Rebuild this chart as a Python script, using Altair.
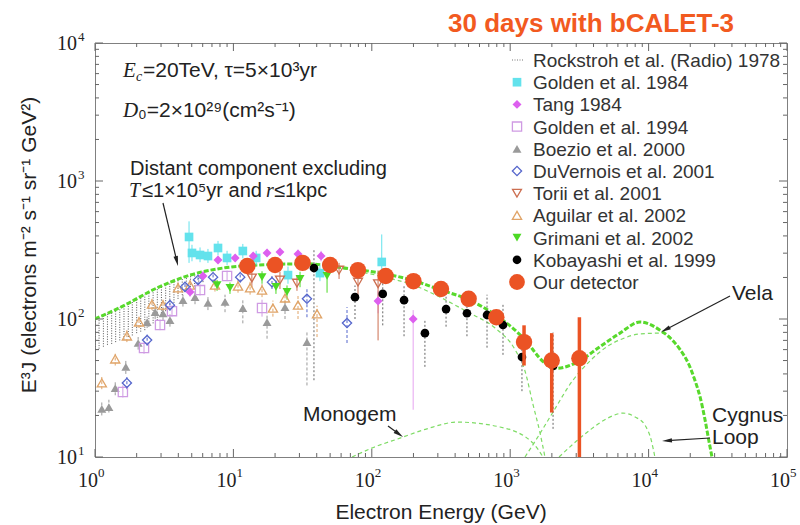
import math
import altair as alt
import pandas as pd

SANS = "Liberation Sans"
SERIF = "Liberation Serif"
INK = "#222222"
# plot box in page pixels
LEFT, TOP, W, H = 95, 43, 692, 414

# ---------------- model spectra: energy (GeV) vs E^3 J ----------------
total_E = [1, 1.59, 2.81, 4.86, 8.4, 14.8, 34, 64, 126, 200, 316, 500, 794, 1259, 1780, 2180,
           3090, 4450, 6210, 8670, 12100, 14500, 16900, 19500, 21600, 23600, 25600, 27300, 28700]
total_F = [100, 124, 168, 208, 234, 246, 251, 234, 212, 190, 162, 138, 106, 72, 48, 44,
           49, 63, 79, 95, 83, 72, 60, 47, 36, 27, 18.5, 13, 10]

distant_E = [1, 1.59, 2.81, 4.86, 8.4, 14.8, 34, 64, 126, 200, 311, 495, 777, 1084, 1279, 1462, 1641, 1783]
distant_F = [100, 124, 168, 208, 234, 246, 250, 230, 200, 176, 144, 112, 86, 60, 42, 24, 15, 10]

monogem_E = [72, 100, 160, 250, 413, 843, 1462, 1725]
monogem_F = [10, 11.6, 13.7, 16, 17.9, 16.5, 12.6, 10]

vela_E = [1279, 1600, 2000, 2840, 3800, 5000, 6500, 8670, 12700, 16900, 21600, 25600, 28700]
vela_F = [10, 14.2, 20.5, 36, 50, 63, 72, 78, 79, 60, 36, 18.5, 10]

cyg_E = [2254, 3000, 3773, 5000, 6530, 8000, 9420, 10500, 11100]
cyg_F = [10, 13, 15.7, 19, 20.8, 19.5, 17, 13, 10]

# ---------------- measurements ----------------
rock_E = [1.00, 1.07, 1.15, 1.23, 1.32, 1.41, 1.51, 1.62, 1.74, 1.86, 2.00, 2.14, 2.29, 2.45,
          2.63, 2.82, 3.02, 3.24, 3.47, 3.72, 3.98, 4.27, 4.57, 4.90, 5.25, 5.62, 6.03]
rock_lo = [60, 61, 63, 65, 66, 68, 70, 71, 74, 76, 79, 81, 83, 88, 93, 98, 106, 114, 122, 131,
           140, 149, 158, 163, 172, 179, 185]
rock_hi = [100, 103, 107, 110, 114, 118, 121, 125, 130, 135, 140, 145, 150, 156, 162, 168, 173,
           179, 185, 190, 195, 199, 203, 208, 211, 214, 217]

g84_E = [4.78, 5.02, 5.74, 6.55, 7.74, 9.0, 11.7, 14.6, 24.8, 42.2, 118]
g84_F = [393, 301, 291, 286, 327, 277, 311, 277, 208, 215, 259]
g84_lo = [255, 262, 258, 255, 290, 245, 275, 245, 180, 188, 215]
g84_hi = [510, 345, 330, 322, 368, 312, 350, 312, 240, 245, 410]

tang_E = [4.86, 6.03, 7.74, 10.3, 13.9, 17.5, 21.7, 29.3, 43.0, 111, 199]
tang_F = [157, 205, 268, 277, 286, 301, 306, 296, 286, 135, 100]
tang_lo = [145, 190, 250, 260, 268, 282, 286, 275, 262, 110, 22]
tang_hi = [170, 222, 288, 296, 306, 322, 328, 318, 312, 160, 116]

g94_E = [1.59, 2.26, 2.95, 3.60, 5.74, 9.0, 16.1]
g94_F = [29.6, 61.6, 90.5, 114, 162, 205, 120]
g94_lo = [27, 56, 83, 104, 148, 188, 104]
g94_hi = [33, 68, 99, 126, 178, 224, 138]

boe_E = [1.12, 1.26, 1.40, 1.67, 2.05, 2.38, 2.72, 3.10, 3.48, 4.32, 5.28, 6.55, 8.7, 11.7, 17.5, 23.6, 34.0]
boe_F = [22.3, 23.0, 31.6, 44.9, 67, 95, 112, 110, 98, 137, 144, 131, 133, 120, 95, 122, 68]
boe_lo = [20, 21, 28, 40, 60, 86, 100, 98, 88, 123, 128, 116, 112, 93, 72, 100, 33]
boe_hi = [25, 26, 35, 50, 74, 104, 124, 122, 108, 150, 160, 146, 150, 138, 110, 140, 80]

duv_E = [1.70, 2.38, 3.48, 4.47, 5.55, 7.13, 11.2, 19.0, 34.0, 66.2]
duv_F = [34.4, 70.4, 126, 171, 192, 201, 201, 185, 140, 93.5]
duv_lo = [31, 64, 115, 157, 176, 184, 184, 165, 103, 67]
duv_hi = [38, 77, 138, 186, 210, 220, 220, 205, 170, 122]

tor_E = [13.6, 21.7, 28.8, 58, 79.5, 111]
tor_F = [198, 192, 182, 226, 185, 180]
tor_lo = [170, 165, 160, 195, 150, 70]
tor_hi = [225, 220, 205, 255, 215, 225]

agu_E = [1.12, 1.40, 1.70, 2.08, 2.58, 3.10, 3.98, 4.86, 7.36, 10.8, 13.2, 16.1, 19.3, 23.6, 29.3, 40.2]
agu_F = [34.4, 51.3, 75.3, 95.1, 128, 126, 168, 176, 176, 173, 168, 162, 120, 142, 126, 109]
agu_lo = [31, 46, 68, 86, 116, 114, 152, 160, 158, 155, 150, 144, 104, 120, 100, 74]
agu_hi = [38, 56, 83, 104, 140, 138, 184, 192, 194, 192, 186, 180, 136, 165, 150, 125]

gri_E = [7.62, 9.45, 16.1, 20.3, 24.4, 30.3, 47.5]
gri_F = [176, 168, 201, 171, 157, 195, 205]
gri_lo = [160, 152, 180, 152, 138, 170, 155]
gri_hi = [192, 184, 222, 190, 175, 220, 232]

kob_E = [38.2, 75.6, 120, 171, 242, 344, 487, 680, 887, 1216, 2040]
kob_F = [234, 144, 152, 137, 79, 118, 110, 107, 90.5, 53, 45.6]
kob_lo = [36, 100, 90, 75, 45, 88, 75, 62, 55, 30, 16]
kob_hi = [325, 175, 185, 175, 100, 145, 140, 150, 130, 62, 80]

our_E = [12.6, 20, 31.6, 50, 79.4, 126, 200, 316, 501, 794, 1259, 1995, 3162]
our_F = [242, 246, 255, 246, 226, 205, 188, 165, 140, 103, 68, 50, 52]
our_lo = [235, 239, 248, 239, 219, 198, 181, 158, 133, 97, 46, 21, 10]
our_hi = [249, 253, 262, 253, 233, 212, 195, 172, 147, 109, 90, 79, 103]

# ---------------- axes ----------------
x_decades = [1, 10, 100, 1000, 10000, 100000]
x_exponents = ["0", "1", "2", "3", "4", "5"]
y_decades = [10, 100, 1000, 10000]
y_exponents = ["1", "2", "3", "4"]
minor_mult = [2, 3, 4, 5, 6, 7, 8, 9]

legend_labels = ["Rockstroh et al. (Radio) 1978", "Golden et al. 1984", "Tang 1984",
                 "Golden et al. 1994", "Boezio et al. 2000", "DuVernois et al. 2001",
                 "Torii et al. 2001", "Aguilar et al. 2002", "Grimani et al. 2002",
                 "Kobayashi et al. 1999", "Our detector"]

xs = alt.Scale(type="log", domain=[1, 1e5], nice=False)
ys = alt.Scale(type="log", domain=[10, 1e4], nice=False)
one = pd.DataFrame({"k": [0]})


def xe(field="E"):
    return alt.X(f"{field}:Q", scale=xs, axis=None)


def ye(field="F"):
    return alt.Y(f"{field}:Q", scale=ys, axis=None)


def curve(E, F, color, width, dash):
    df = pd.DataFrame({"E": E, "F": F})
    return alt.Chart(df).mark_line(color=color, strokeWidth=width, strokeDash=dash,
                                   interpolate="monotone", clip=True).encode(x=xe(), y=ye())


def series(E, F, lo, hi, style, bar_color=None, bar_width=1.0, bar_dash=None):
    df = pd.DataFrame({"E": E, "F": F, "lo": lo, "hi": hi})
    rule_kw = dict(color=bar_color or style["color"], strokeWidth=bar_width, clip=True)
    if bar_dash:
        rule_kw["strokeDash"] = bar_dash
    bars = alt.Chart(df).mark_rule(**rule_kw).encode(x=xe(), y=ye("lo"), y2="hi:Q")
    pts = alt.Chart(df).mark_point(opacity=1, clip=True, **style).encode(x=xe(), y=ye())
    return bars, pts


def label(text, x, y, size=21, font=SANS, color=INK, style="normal", weight="normal",
          align="left", angle=0, baseline="alphabetic"):
    return alt.Chart(one).mark_text(text=text, font=font, fontSize=size, fontStyle=style,
                                    fontWeight=weight, color=color, align=align, angle=angle,
                                    baseline=baseline).encode(x=alt.value(x - LEFT), y=alt.value(y - TOP))


def arrow(x1, y1, x2, y2):
    dx, dy = x2 - x1, y2 - y1
    n = math.hypot(dx, dy)
    ang = math.degrees(math.atan2(dx, -dy)) % 360
    cx, cy = x2 - 5 * dx / n, y2 - 5 * dy / n
    line = alt.Chart(one).mark_rule(color=INK, strokeWidth=1.2).encode(
        x=alt.value(x1 - LEFT), y=alt.value(y1 - TOP),
        x2=alt.value(cx - LEFT), y2=alt.value(cy - TOP))
    head = alt.Chart(one).mark_point(shape="M0,-1L0.45,1L-0.45,1Z", filled=True, color=INK,
                                     size=100, angle=ang, opacity=1).encode(
        x=alt.value(cx - LEFT), y=alt.value(cy - TOP))
    return [line, head]


STY = {
    "Golden et al. 1984": dict(shape="square", color="#63E2EC", filled=True, size=75),
    "Tang 1984": dict(shape="diamond", color="#DD5FEF", filled=True, size=80),
    "Golden et al. 1994": dict(shape="square", color="#CF9BE3", filled=False, size=85, strokeWidth=1.3),
    "Boezio et al. 2000": dict(shape="triangle-up", color="#9A9A9A", filled=True, size=80),
    "DuVernois et al. 2001": dict(shape="diamond", color="#5566CC", filled=False, size=85, strokeWidth=1.3),
    "Torii et al. 2001": dict(shape="triangle-down", color="#CC6E50", filled=False, size=80, strokeWidth=1.3),
    "Aguilar et al. 2002": dict(shape="triangle-up", color="#E0A468", filled=False, size=85, strokeWidth=1.3),
    "Grimani et al. 2002": dict(shape="triangle-down", color="#4CD924", filled=True, size=80),
    "Kobayashi et al. 1999": dict(shape="circle", color="#000000", filled=True, size=75),
    "Our detector": dict(shape="circle", color="#EB5324", filled=True, size=270),
}

layers = []

# radio band: vertical dotted strokes
rock = pd.DataFrame({"E": rock_E, "lo": rock_lo, "hi": rock_hi})
layers.append(alt.Chart(rock).mark_rule(color="#555555", strokeWidth=1, strokeDash=[1, 1.5], clip=True)
              .encode(x=xe(), y=ye("lo"), y2="hi:Q"))

# model components
THIN = "#7FDC66"
layers += [curve(distant_E, distant_F, THIN, 1.2, [4, 3]),
           curve(monogem_E, monogem_F, THIN, 1.2, [4, 3]),
           curve(vela_E, vela_F, THIN, 1.2, [4, 3]),
           curve(cyg_E, cyg_F, THIN, 1.2, [4, 3]),
           curve(total_E, total_F, "#58D92C", 3, [5, 2])]

data_sets = [
    ("Boezio et al. 2000", boe_E, boe_F, boe_lo, boe_hi, dict(bar_dash=[3, 2])),
    ("Aguilar et al. 2002", agu_E, agu_F, agu_lo, agu_hi, dict(bar_dash=[3, 2])),
    ("Golden et al. 1994", g94_E, g94_F, g94_lo, g94_hi, dict()),
    ("DuVernois et al. 2001", duv_E, duv_F, duv_lo, duv_hi, dict(bar_dash=[3, 2])),
    ("Golden et al. 1984", g84_E, g84_F, g84_lo, g84_hi, dict()),
    ("Tang 1984", tang_E, tang_F, tang_lo, tang_hi, dict(bar_color="#E6A3F0")),
    ("Torii et al. 2001", tor_E, tor_F, tor_lo, tor_hi, dict()),
    ("Grimani et al. 2002", gri_E, gri_F, gri_lo, gri_hi, dict()),
    ("Kobayashi et al. 1999", kob_E, kob_F, kob_lo, kob_hi, dict(bar_color="#666666", bar_dash=[2, 2])),
    ("Our detector", our_E, our_F, our_lo, our_hi, dict(bar_width=3.5)),
]
bar_layers, pt_layers = [], []
for name, E, F, lo, hi, kw in data_sets:
    b, p = series(E, F, lo, hi, STY[name], **kw)
    bar_layers.append(b)
    pt_layers.append(p)
layers += bar_layers[:-1] + pt_layers[:-1] + [bar_layers[-1], pt_layers[-1]]

# legend
for i, name in enumerate(legend_labels):
    yc = 60 + 22.2 * i
    if i == 0:
        layers.append(alt.Chart(one).mark_rule(color="#777777", strokeDash=[1, 1.5], strokeWidth=1)
                      .encode(x=alt.value(512 - LEFT), x2=alt.value(523 - LEFT), y=alt.value(yc - TOP)))
    else:
        st = dict(STY[name])
        if name == "Our detector":
            st["size"] = 250
        layers.append(alt.Chart(one).mark_point(opacity=1, **st)
                      .encode(x=alt.value(517 - LEFT), y=alt.value(yc - TOP)))
    layers.append(label(name, 533, yc + 7, size=19, color="#333333"))

# title and annotations
layers += [
    label("30 days with bCALET-3", 448, 32, size=26, weight="bold", color="#F25A1F"),
    label("E", 123, 77, font=SERIF, style="italic"),
    label("c", 136, 81, size=14, font=SERIF, style="italic"),
    label("=20TeV, τ=5×10³yr", 143, 77),
    label("D", 123, 117, font=SERIF, style="italic"),
    label("₀=2×10²⁹(cm²s⁻¹)", 138, 117),
    label("Distant component excluding", 130, 175, size=20),
    label("T", 129, 197, size=20, font=SERIF, style="italic"),
    label("≤1×10⁵yr and", 142, 197, size=20),
    label("r", 266, 197, size=20, font=SERIF, style="italic"),
    label("≤1kpc", 274, 197, size=20),
    label("Monogem", 303, 421),
    label("Vela", 732, 300),
    label("Cygnus", 712, 422),
    label("Loop", 712, 444),
    label("Electron Energy (GeV)", 441, 519, size=21, align="center"),
    label("E³J (electrons m⁻² s⁻¹ sr⁻¹ GeV²)", 30, 245, size=21, align="center",
          angle=270, baseline="middle"),
]
layers += arrow(163, 203, 178, 266)
layers += arrow(388, 426, 403, 437)
layers += arrow(730, 296, 661, 332)
layers += arrow(710, 438, 662, 441)

# inward ticks on all four sides
TICK = "#666666"
xmaj = pd.DataFrame({"v": x_decades})
xmin = pd.DataFrame({"v": [m * d for d in x_decades[:-1] for m in minor_mult]})
ymaj = pd.DataFrame({"v": y_decades})
ymin = pd.DataFrame({"v": [m * d for d in y_decades[:-1] for m in minor_mult]})
for df, ln in ((xmaj, 8), (xmin, 4)):
    layers.append(alt.Chart(df).mark_rule(color=TICK, strokeWidth=1)
                  .encode(x=xe("v"), y=alt.value(H), y2=alt.value(H - ln)))
    layers.append(alt.Chart(df).mark_rule(color=TICK, strokeWidth=1)
                  .encode(x=xe("v"), y=alt.value(0), y2=alt.value(ln)))
for df, ln in ((ymaj, 8), (ymin, 4)):
    layers.append(alt.Chart(df).mark_rule(color=TICK, strokeWidth=1)
                  .encode(y=ye("v"), x=alt.value(0), x2=alt.value(ln)))
    layers.append(alt.Chart(df).mark_rule(color=TICK, strokeWidth=1)
                  .encode(y=ye("v"), x=alt.value(W), x2=alt.value(W - ln)))

# decade labels written as 10 with a raised exponent
xl = pd.DataFrame({"v": x_decades, "e": x_exponents})
yl = pd.DataFrame({"v": y_decades, "e": y_exponents})
layers.append(alt.Chart(xl).mark_text(text="10", font=SERIF, fontSize=20, color=INK, align="right", dx=3,
                                      baseline="alphabetic").encode(x=xe("v"), y=alt.value(487 - TOP)))
layers.append(alt.Chart(xl).mark_text(font=SERIF, fontSize=13, color=INK, align="left", dx=3,
                                      baseline="alphabetic").encode(x=xe("v"), y=alt.value(477 - TOP),
                                                                    text="e:N"))
layers.append(alt.Chart(yl).mark_text(text="10", font=SERIF, fontSize=20, color=INK, align="right", dy=7,
                                      baseline="alphabetic").encode(y=ye("v"), x=alt.value(77 - LEFT)))
layers.append(alt.Chart(yl).mark_text(font=SERIF, fontSize=13, color=INK, align="left", dy=-2,
                                      baseline="alphabetic").encode(y=ye("v"), x=alt.value(78 - LEFT),
                                                                    text="e:N"))

chart = alt.layer(*layers).properties(
    width=W, height=H,
    padding={"left": LEFT, "top": TOP, "right": 800 - LEFT - W, "bottom": 525 - TOP - H},
    autosize=alt.AutoSizeParams(type="none"),
    background="white",
).configure_view(stroke="#808080", strokeWidth=1)

chart.save("out.html", embed_options={"renderer": "svg", "actions": False})
